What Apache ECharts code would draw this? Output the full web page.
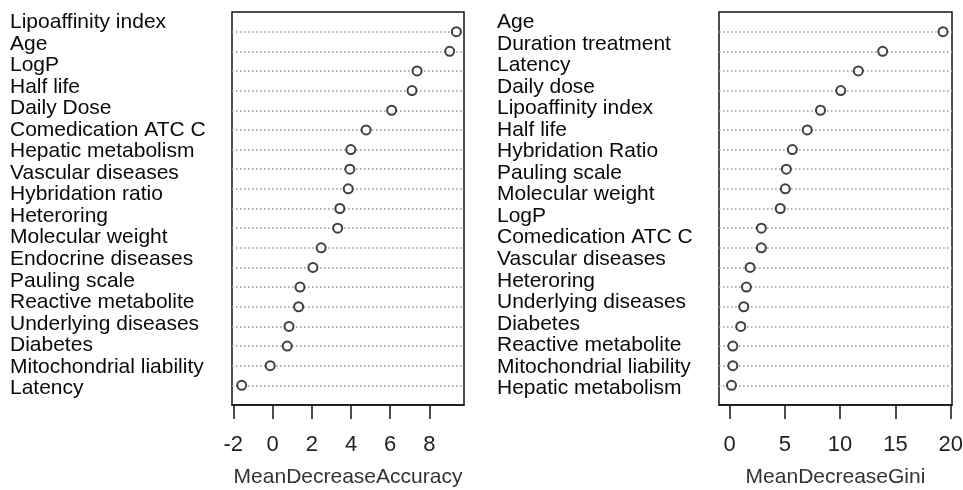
<!DOCTYPE html>
<html>
<head>
<meta charset="utf-8">
<script src="https://cdn.jsdelivr.net/npm/echarts@6/dist/echarts.min.js"></script>
<style>
html,body{margin:0;padding:0;background:#fff;}
#chart{width:963px;height:490px;}
</style>
</head>
<body>
<div id="chart"></div>
<script>
// Row labels as printed (18 per panel)
const leftLabels = ["Lipoaffinity index","Age","LogP","Half life","Daily Dose","Comedication ATC C","Hepatic metabolism","Vascular diseases","Hybridation ratio","Heteroring","Molecular weight","Endocrine diseases","Pauling scale","Reactive metabolite","Underlying diseases","Diabetes","Mitochondrial liability","Latency"];
const rightLabels = ["Age","Duration treatment","Latency","Daily dose","Lipoaffinity index","Half life","Hybridation Ratio","Pauling scale","Molecular weight","LogP","Comedication ATC C","Vascular diseases","Heteroring","Underlying diseases","Diabetes","Reactive metabolite","Mitochondrial liability","Hepatic metabolism"];
// Dot values, top row first (19 dots per panel as drawn)
const accuracyValues = [9.37,9.03,7.37,7.11,6.07,4.77,3.99,3.94,3.86,3.43,3.32,2.48,2.06,1.40,1.33,0.84,0.75,-0.12,-1.57];
const giniValues = [19.31,13.85,11.65,10.06,8.23,7.03,5.68,5.14,5.05,4.59,2.88,2.88,1.86,1.53,1.29,1.02,0.30,0.30,0.18];
// Tick labels
const accuracyTicks = [-2,0,2,4,6,8];
const giniTicks = [0,5,10,15,20];

const chart = echarts.init(document.getElementById('chart'), null, {renderer:'canvas'});
const ink = '#151515';
const sans = "'Liberation Sans', Arial, sans-serif";

function pts(vals){ return vals.map((v,i)=>[v, i+1]); }

function valueX(gridIndex, min, max, ticks, name){
  return {
    type:'value', gridIndex, min, max, position:'bottom',
    name, nameLocation:'middle', nameGap:62,
    nameTextStyle:{fontFamily:sans, fontSize:21, color:'#333'},
    axisLine:{show:true, onZero:false, lineStyle:{color:ink, width:1.5}},
    axisTick:{show:true, inside:false, length:14, lineStyle:{color:ink, width:1.5}, customValues:ticks},
    axisLabel:{show:true, margin:29, fontFamily:sans, fontSize:22, color:'#222', customValues:ticks, formatter:v=>String(v)},
    splitLine:{show:false}
  };
}
function rowsY(gridIndex){
  return {
    type:'value', gridIndex, min:0, max:20, interval:1, inverse:true,
    axisLine:{show:false}, axisTick:{show:false}, axisLabel:{show:false},
    splitLine:{show:true, showMinLine:false, showMaxLine:false, lineStyle:{color:'#999999', width:1.6, type:[1.6,2.4]}}
  };
}
function labelY(gridIndex, labels){
  return {
    type:'category', gridIndex, data:labels, inverse:true,
    axisLine:{show:false}, axisTick:{show:false}, splitLine:{show:false},
    axisLabel:{show:true, interval:0, align:'left', margin:222, fontFamily:sans, fontSize:21, color:'#0a0a0a'}
  };
}
function hiddenX(gridIndex){
  return {type:'value', gridIndex, show:false, min:0, max:1};
}

const option = {
  backgroundColor:'#ffffff',
  animation:false,
  grid:[
    {left:232, top:12, width:232, height:393, show:true, borderColor:ink, borderWidth:1.5, containLabel:false, outerBoundsMode:'none'},
    {left:719, top:12, width:233, height:393, show:true, borderColor:ink, borderWidth:1.5, containLabel:false, outerBoundsMode:'none'},
    {left:232, top:11.7, width:232, height:387.4, show:false, containLabel:false, outerBoundsMode:'none'},
    {left:719, top:11.7, width:233, height:387.4, show:false, containLabel:false, outerBoundsMode:'none'}
  ],
  xAxis:[
    valueX(0, -2.066, 9.76, accuracyTicks, 'MeanDecreaseAccuracy'),
    valueX(1, -0.95, 20.12, giniTicks, 'MeanDecreaseGini'),
    hiddenX(2), hiddenX(3)
  ],
  yAxis:[ rowsY(0), rowsY(1), labelY(2, leftLabels), labelY(3, rightLabels) ],
  series:[
    {type:'scatter', xAxisIndex:0, yAxisIndex:0, data:pts(accuracyValues), symbol:'circle', symbolSize:9,
      itemStyle:{color:'#ffffff', borderColor:'#111', borderWidth:2}},
    {type:'scatter', xAxisIndex:1, yAxisIndex:1, data:pts(giniValues), symbol:'circle', symbolSize:9,
      itemStyle:{color:'#ffffff', borderColor:'#111', borderWidth:2}}
  ]
};
chart.setOption(option);
</script>
</body>
</html>
